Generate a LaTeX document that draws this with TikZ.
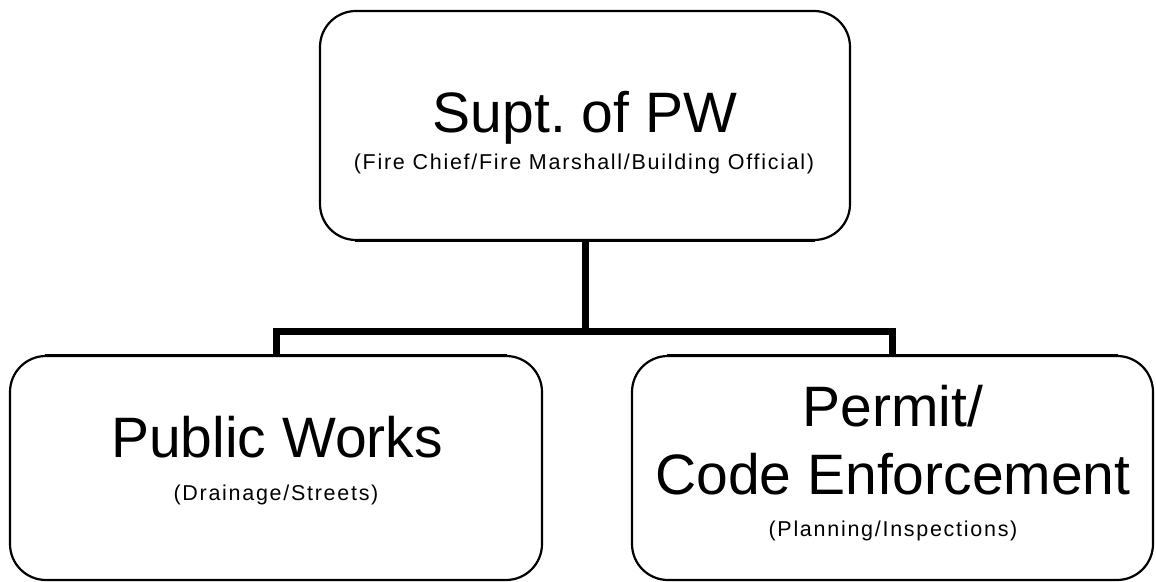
\documentclass[tikz,border=0pt]{standalone}
\usepackage{fontspec}
\setmainfont{Liberation Sans}
\newfontfamily\subfont[LetterSpace=8]{Liberation Sans}
\begin{document}
\begin{tikzpicture}[x=1pt,y=1pt,
  orgbox/.style={draw=black, line width=2.2pt, rounded corners=36pt, fill=white, inner sep=0pt},
  conn/.style={draw=black, line width=7pt, line cap=butt, line join=miter},
  head/.style={anchor=base, inner sep=0pt, font=\frenchspacing\fontsize{57}{60}\selectfont},
  sub/.style={anchor=base, inner sep=0pt, font=\subfont\fontsize{21.5}{24}\selectfont}]
\useasboundingbox (0,0) rectangle (1156,581);

% boxes
\node[orgbox, minimum width=530pt, minimum height=229pt] (supt) at (585,455.5) {};
\node[orgbox, minimum width=532pt, minimum height=224pt] (pw) at (276,113) {};
\node[orgbox, minimum width=521pt, minimum height=224pt] (permit) at (892.5,113) {};

% connectors
\coordinate (bar) at (585,249);
\draw[conn] (supt.south) -- (bar);
\draw[conn] (pw.north) |- (bar) -| (permit.north);

% redraw box outlines over connector ends
\draw[line width=2.2pt] ([xshift=36pt]supt.south west) -- ([xshift=-36pt]supt.south east);
\draw[line width=2.2pt] ([xshift=36pt]pw.north west) -- ([xshift=-36pt]pw.north east);
\draw[line width=2.2pt] ([xshift=36pt]permit.north west) -- ([xshift=-36pt]permit.north east);

% texts
\node[head] (t1) at (585,448) {Supt. of PW};
\node[sub] (s1) at (584,411) {(Fire Chief/Fire Marshall/Building Official)};

\node[head] (t2) at (277,123) {Public Works};
\node[sub] (s2) at (276,81) {(Drainage/Streets)};

\node[head] (t3a) at (893,154) {Permit/};
\node[head] (t3b) at (893,87) {Code Enforcement};
\node[sub] (s3) at (893,45) {(Planning/Inspections)};
\end{tikzpicture}
\end{document}
